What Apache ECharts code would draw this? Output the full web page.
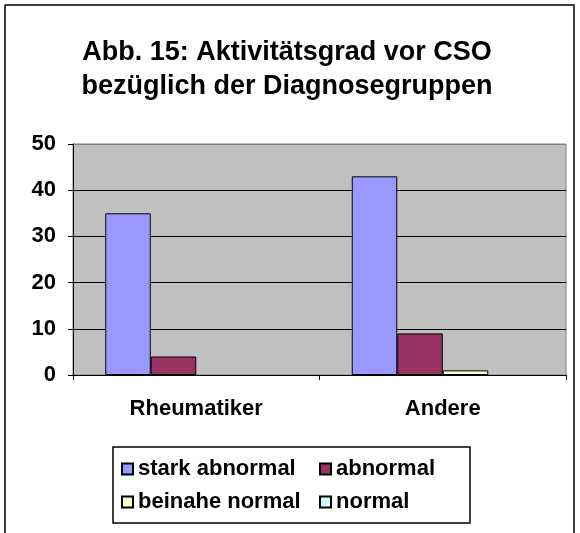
<!DOCTYPE html>
<html>
<head>
<meta charset="utf-8">
<script src="https://cdn.jsdelivr.net/npm/echarts@6/dist/echarts.min.js"></script>
<style>
  html, body { margin: 0; padding: 0; background: #fff; }
  #chart { width: 580px; height: 533px; }
</style>
</head>
<body>
<div id="chart"></div>
<script>
const categories = ["Rheumatiker", "Andere"];
const starkAbnormal = [35, 43];
const abnormal = [4, 9];
const beinaheNormal = [0, 1];
const normal = [0, 0];
const yTicks = [0, 10, 20, 30, 40, 50];

const font = "'Liberation Sans', Arial, sans-serif";
const chart = echarts.init(document.getElementById("chart"), null, { renderer: "canvas" });

// zero values are not drawn at all in the original (no flat outline)
const bar = (name, data, color) => ({
  name: name,
  type: "bar",
  data: data.map((v) => (v === 0 ? "-" : v)),
  barWidth: 45.5,
  barGap: "0%",
  itemStyle: { color: color, borderColor: "#000", borderWidth: 1 },
  animation: false
});

const legendText = { fontFamily: font, fontWeight: "bold", fontSize: 22, color: "#000" };

const option = {
  backgroundColor: "#fff",
  animation: false,
  title: {
    text: "Abb. 15: Aktivitätsgrad vor CSO\nbezüglich der Diagnosegruppen",
    left: 282,
    textAlign: "center",
    top: 31,
    textStyle: { fontFamily: font, fontWeight: "bold", fontSize: 27, lineHeight: 34, color: "#000" }
  },
  legend: [
    {
      data: ["stark abnormal", "beinahe normal"],
      orient: "vertical",
      left: 116,
      top: 453,
      itemWidth: 11,
      itemHeight: 11,
      itemGap: 11,
      icon: "rect",
      textStyle: legendText
    },
    {
      data: ["abnormal", "normal"],
      orient: "vertical",
      left: 314,
      top: 453,
      itemWidth: 11,
      itemHeight: 11,
      itemGap: 11,
      icon: "rect",
      textStyle: legendText
    }
  ],
  graphic: [
    {
      type: "rect",
      shape: { x: 5, y: 5, width: 569, height: 540 },
      style: { fill: null, stroke: "#000", lineWidth: 1.5 },
      silent: true
    },
    {
      type: "rect",
      shape: { x: 113, y: 447, width: 357, height: 76 },
      style: { fill: null, stroke: "#000", lineWidth: 1.5 },
      silent: true
    }
  ],
  grid: {
    left: 73,
    right: 14,
    top: 144,
    height: 231,
    show: true,
    backgroundColor: "#C0C0C0",
    borderColor: "#808080",
    borderWidth: 1
  },
  xAxis: {
    type: "category",
    data: categories,
    axisLine: { lineStyle: { color: "#000", width: 1 } },
    axisTick: { show: true, length: 5, lineStyle: { color: "#000" } },
    axisLabel: { fontFamily: font, fontWeight: "bold", fontSize: 22, color: "#000", margin: 23 }
  },
  yAxis: {
    type: "value",
    min: yTicks[0],
    max: yTicks[yTicks.length - 1],
    interval: 10,
    axisLine: { show: true, lineStyle: { color: "#000", width: 1 } },
    axisTick: { show: true, length: 5, lineStyle: { color: "#000" } },
    axisLabel: { fontFamily: font, fontWeight: "bold", fontSize: 22, color: "#000", margin: 17 },
    splitLine: {
      show: true,
      lineStyle: { color: ["#000", "#000", "#000", "#000", "#000", "#808080"], width: 1 }
    }
  },
  series: [
    bar("stark abnormal", starkAbnormal, "#9999FF"),
    bar("abnormal", abnormal, "#993366"),
    bar("beinahe normal", beinaheNormal, "#FFFFCC"),
    bar("normal", normal, "#CCFFFF")
  ]
};

chart.setOption(option);
</script>
</body>
</html>
